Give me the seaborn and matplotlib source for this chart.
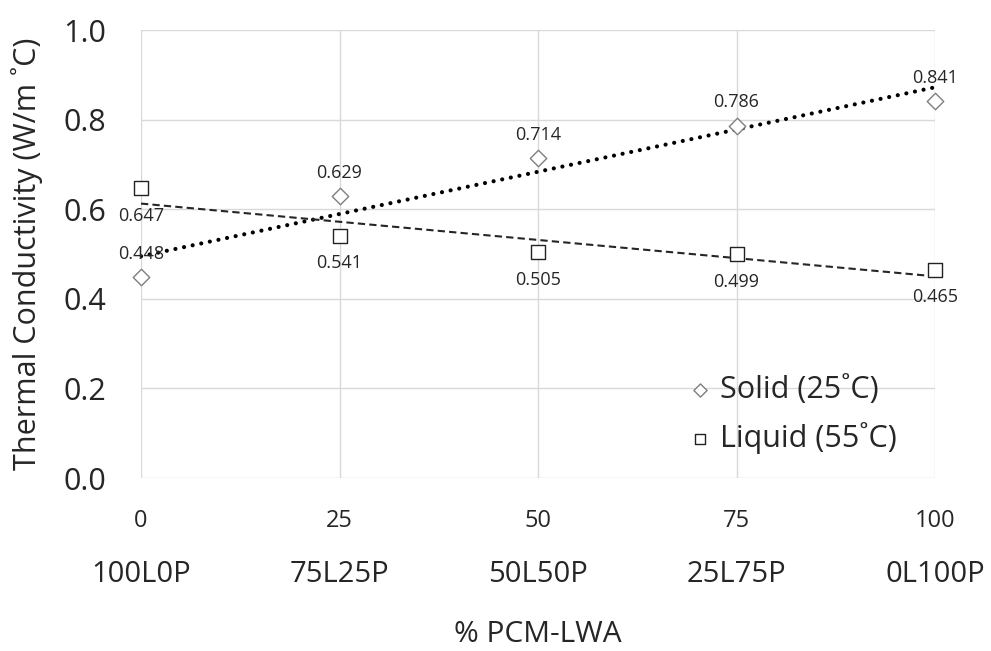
import numpy as np
import pandas as pd
import matplotlib
matplotlib.use("Agg")
import matplotlib.pyplot as plt
import seaborn as sns
from matplotlib.transforms import blended_transform_factory

# ---- data ----
x_pct = [0, 25, 50, 75, 100]
mix_labels = ["100L0P", "75L25P", "50L50P", "25L75P", "0L100P"]
solid_vals = [0.448, 0.629, 0.714, 0.786, 0.841]
liquid_vals = [0.647, 0.541, 0.505, 0.499, 0.465]
solid_name = "Solid (25˚C)"
liquid_name = "Liquid (55˚C)"
y_ticks = [0.0, 0.2, 0.4, 0.6, 0.8, 1.0]

sns.set_theme(style="white")
plt.rcParams['font.family'] = ['Open Sans', 'DejaVu Sans']

fig = plt.figure(figsize=(9.91, 6.51), dpi=100)
ax = fig.add_axes([0.1423, 0.2657, 0.8012, 0.6882])

df = pd.DataFrame({
    "x": x_pct * 2,
    "y": solid_vals + liquid_vals,
    "series": [solid_name] * 5 + [liquid_name] * 5,
})

# trendlines (linear fits of the data)
xs = np.array(x_pct, dtype=float)
ps = np.polyfit(xs, solid_vals, 1)
pl = np.polyfit(xs, liquid_vals, 1)
xfit = np.array([0.0, 100.0])
sns.lineplot(x=xfit, y=np.polyval(ps, xfit), ax=ax, color="black",
             linestyle=(0, (0.01, 2.1)), linewidth=3.0, dash_capstyle="round",
             legend=False, zorder=3)
sns.lineplot(x=xfit, y=np.polyval(pl, xfit), ax=ax, color="#262626",
             linestyle=(0, (3.5, 2.0)), linewidth=1.5, legend=False, zorder=3)

sns.scatterplot(data=df[df.series == solid_name], x="x", y="y", ax=ax,
                marker="D", s=70, facecolor="white", edgecolor="#7f7f7f",
                linewidth=1.0, label=solid_name, zorder=4, clip_on=False)
sns.scatterplot(data=df[df.series == liquid_name], x="x", y="y", ax=ax,
                marker="s", s=95, facecolor="white", edgecolor="#222222",
                linewidth=1.0, label=liquid_name, zorder=4, clip_on=False)

# data labels
for xv, yv in zip(x_pct, solid_vals):
    ax.annotate(f"{yv:.3f}", (xv, yv), xytext=(0, 17), textcoords="offset points",
                ha="center", va="center", fontsize=13, color="#262626", zorder=5)
for xv, yv in zip(x_pct, liquid_vals):
    ax.annotate(f"{yv:.3f}", (xv, yv), xytext=(0, -20), textcoords="offset points",
                ha="center", va="center", fontsize=13, color="#262626", zorder=5)

ax.set_xlim(0, 100)
ax.set_ylim(0, 1.0)
ax.set_xticks(x_pct)
ax.set_xticklabels([str(v) for v in x_pct])
ax.set_yticks(y_ticks)
ax.set_yticklabels([f"{v:.1f}" for v in y_ticks])
ax.tick_params(axis="x", labelsize=17, colors="#262626", pad=22, length=0)
ax.tick_params(axis="y", labelsize=22, colors="#262626", pad=25, length=0)

ax.grid(True, color="#d9d9d9", linewidth=1.0)
for s in ax.spines.values():
    s.set_visible(False)

trans = blended_transform_factory(ax.transData, fig.transFigure)
for xv, lab in zip(x_pct, mix_labels):
    ax.text(xv, 1 - 574 / 651, lab, transform=trans, ha="center", va="center",
            fontsize=21, color="#262626")

ax.set_xlabel("")
ax.set_ylabel("Thermal Conductivity (W/m ˚C)", fontsize=22, color="#262626")
ax.yaxis.set_label_coords(-(141 - 43) / 794, 0.5)
fig.text(0.5 * (141 + 935) / 991, 1 - 635 / 651, "% PCM-LWA", ha="center", va="center",
         fontsize=21.5, color="#262626")

leg = ax.legend(loc="center left", bbox_to_anchor=(0.65, 0.141), frameon=False,
                fontsize=22, handlelength=1.0, handletextpad=0.15, labelspacing=0.55,
                markerscale=0.8)
for t in leg.get_texts():
    t.set_color("#262626")

fig.savefig("out.png", dpi=100)
